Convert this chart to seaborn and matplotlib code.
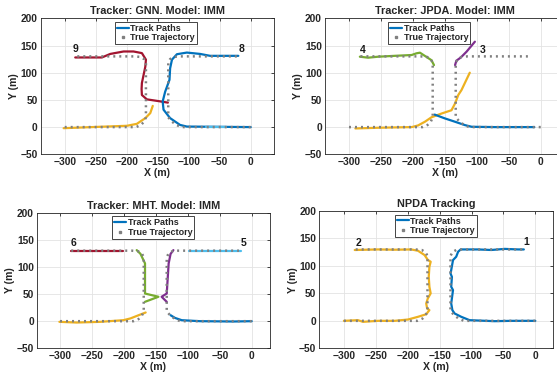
import matplotlib
matplotlib.use("Agg")
import matplotlib.pyplot as plt
from matplotlib.lines import Line2D
import seaborn as sns

# colores estilo MATLAB
azul = '#0072BD'
amarelo = '#EDB120'
roxo = '#7E2F8E'
verde = '#77AC30'
ciano = '#4DBEEE'
vermelho = '#A2142F'
cinza = '#808080'

# trajetorias verdadeiras (vertices)
truthA_x = [0, -112, -120, -127, -133, -133, -130, -124, -115, -20]
truthA_y = [0, 0, 4, 10, 18, 118, 125, 129, 130, 130]
truthB_x = [-300, -185, -177, -172, -169, -169, -172, -178, -188, -285]
truthB_y = [0, 0, 4, 10, 18, 118, 125, 129, 130, 130]

# GNN
gnn_red_x = [-133.6, -150, -167.5, -175.5, -176, -175.5, -170, -169, -175.5, -189, -205, -226.5, -240, -264, -283]
gnn_red_y = [45, 48, 51, 59, 70, 81, 111, 124, 136, 139, 139, 134.5, 128, 128, 128]
gnn_blue_x = [0, -50, -103, -114, -130, -140.6, -142, -138, -131, -130, -127, -119, -103, -81.6, -65.5, -20]
gnn_blue_y = [0, 0.5, 1, 4, 16.5, 32, 47, 65, 87, 108, 124, 134, 137, 134.5, 131, 131]
gnn_yel_x = [-301.7, -242.6, -199.7, -183.6, -170, -162, -158]
gnn_yel_y = [-2, 0.6, 2.4, 6, 16.5, 25.7, 39]
gnn_cyan_x = [-72, -40]
gnn_cyan_y = [0.6, 0.6]
gnn_lab = ['9', '8']
gnn_lab_x = [-287, -19]
gnn_lab_y = [135, 135]

# JPDA
jpda_green_x = [-167, -171, -181, -189, -194.5, -202, -228.4, -254.6, -270, -283]
jpda_green_y = [114, 123, 130.7, 136.8, 135.6, 132.5, 131, 129.4, 127.6, 129.4]
jpda_purp_x = [-134, -132, -125, -116, -103]
jpda_purp_y = [114, 122, 128, 138.7, 157]
jpda_yel_x = [-290, -254.6, -202, -192, -181, -171, -155, -139.6, -134, -129, -124, -111]
jpda_yel_y = [-2.5, -1.2, 0, 3, 10, 18, 25, 31, 43.5, 59, 68, 100]
jpda_blue_x = [-10, -71.6, -108, -118.7, -134, -150, -166]
jpda_blue_y = [0, 0, 0.6, 3.7, 9.8, 16, 23]
jpda_lab = ['4', '3']
jpda_lab_x = [-283, -96]
jpda_lab_y = [132, 132]

# MHT
mht_red_x = [-202, -240, -283]
mht_red_y = [129.5, 129.5, 129.5]
mht_cyan_x = [-98, -60, -17]
mht_cyan_y = [130, 130, 130]
mht_green_x = [-180, -174, -167, -167, -146, -167]
mht_green_y = [131, 124, 106.5, 51, 45, 35.7]
mht_purp_x = [-122.6, -127, -130, -133, -141, -133]
mht_purp_y = [131, 124, 106.5, 51, 45, 35.7]
mht_yel_x = [-301, -274, -237, -201, -190, -177, -166]
mht_yel_y = [-1.2, -2.5, -1.2, 1.8, 5, 11, 16]
mht_blue_x = [0, -28.7, -81, -109.5, -120, -127]
mht_blue_y = [0, -0.6, 0, 1.8, 6, 11]
mht_lab = ['6', '5']
mht_lab_x = [-284, -18]
mht_lab_y = [134, 134]

# NPDA
npda_yel_x = [-300, -278, -270, -246.6, -220.5, -199.6, -184, -171, -166, -169.5, -171, -168.5, -164, -166,
              -167, -166, -164, -168.5, -173.6, -184, -194.6, -220.5, -246.6, -283]
npda_yel_y = [0, 1.2, -1.8, 0, 0, 2.4, 7.3, 12, 19.5, 22.5, 31.6, 40.7, 50, 62,
              80, 98.5, 107.6, 111, 119.8, 127.7, 130, 129.5, 130, 129]
npda_blue_x = [0, -37.6, -63.8, -90, -103, -116, -126.5, -130, -131.8, -129, -131.8, -130.7, -132.8,
               -129, -124, -121, -117, -90, -69, -48, -27, -18]
npda_blue_y = [0, 0, -0.6, 0.6, 1.2, 7.3, 13.4, 19.5, 31.6, 56, 62, 80, 86,
               110.6, 116.7, 125.8, 130, 130, 129, 131, 130, 130]
npda_lab = ['2', '1']
npda_lab_x = [-282, -18]
npda_lab_y = [133, 135]

sns.set_theme(style="whitegrid")
plt.rcParams['font.family'] = ['Liberation Sans', 'DejaVu Sans']
plt.rcParams['font.weight'] = 'bold'
plt.rcParams['axes.labelweight'] = 'bold'
plt.rcParams['axes.titleweight'] = 'bold'

fig = plt.figure(figsize=(5.57, 3.79), dpi=100)
W, H = 557.0, 379.0


def eixo(l, t, r, b):
    return fig.add_axes([l / W, 1 - b / H, (r - l) / W, (b - t) / H])


def painel(ax, titulo, tracks, labs, lx, ly, xlim, legx):
    for tx, ty, c in tracks:
        sns.lineplot(x=tx, y=ty, sort=False, estimator=None, color=c, lw=1.6, ax=ax, zorder=2)
    for tx, ty in [(truthA_x, truthA_y), (truthB_x, truthB_y)]:
        ax.plot(tx, ty, color=cinza, lw=1.8, ls=(0, (0.8, 1.6)), dash_capstyle='butt', zorder=3)
    for s, x, y in zip(labs, lx, ly):
        ax.text(x, y, s, fontsize=7.5, color='k', ha='left', va='bottom', zorder=4)
    ax.set_xlim(xlim)
    ax.set_ylim(-50, 200)
    ax.set_xticks(range(-300, 1, 50))
    ax.set_yticks(range(-50, 201, 50))
    ax.set_title(titulo, fontsize=7.8, pad=3)
    ax.set_xlabel('X (m)', fontsize=7.6, labelpad=0.5)
    ax.set_ylabel('Y (m)', fontsize=7.6, labelpad=1)
    ax.tick_params(direction='in', length=2.5, width=0.6, top=True, right=True,
                   labelsize=7.4, pad=2, colors='#262626')
    ax.grid(True, color='#e3e3e3', lw=0.6)
    for sp in ax.spines.values():
        sp.set_color('#262626')
        sp.set_linewidth(0.6)
        sp.set_visible(True)
    hs = [Line2D([0], [0], color=azul, lw=1.6),
          Line2D([0], [0], color=cinza, marker='s', ms=2, ls='none')]
    leg = ax.legend(hs, ['Track Paths', 'True Trajectory'], loc='upper center',
                    bbox_to_anchor=(legx, 0.972), fontsize=6.5, frameon=True, fancybox=False,
                    borderpad=0.2, labelspacing=0.05, handlelength=1.3, handletextpad=0.2,
                    borderaxespad=0)
    leg.get_frame().set_edgecolor('#262626')
    leg.get_frame().set_linewidth(0.6)
    leg.get_frame().set_alpha(1)


ax1 = eixo(40.5, 18.3, 274.3, 154.3)
painel(ax1, 'Tracker: GNN. Model: IMM',
       [(gnn_red_x, gnn_red_y, vermelho), (gnn_blue_x, gnn_blue_y, azul),
        (gnn_cyan_x, gnn_cyan_y, ciano), (gnn_yel_x, gnn_yel_y, amarelo)],
       gnn_lab, gnn_lab_x, gnn_lab_y, (-339, 38), 0.494)

ax2 = eixo(324.7, 18.3, 565, 154.3)
painel(ax2, 'Tracker: JPDA. Model: IMM',
       [(jpda_green_x, jpda_green_y, verde), (jpda_purp_x, jpda_purp_y, roxo),
        (jpda_yel_x, jpda_yel_y, amarelo), (jpda_blue_x, jpda_blue_y, azul)],
       jpda_lab, jpda_lab_x, jpda_lab_y, (-338, 38), 0.435)

ax3 = eixo(36.7, 212.7, 270, 348.3)
painel(ax3, 'Tracker: MHT. Model: IMM',
       [(mht_red_x, mht_red_y, vermelho), (mht_cyan_x, mht_cyan_y, ciano),
        (mht_green_x, mht_green_y, verde), (mht_purp_x, mht_purp_y, roxo),
        (mht_yel_x, mht_yel_y, amarelo), (mht_blue_x, mht_blue_y, azul)],
       mht_lab, mht_lab_x, mht_lab_y, (-336.5, 28.6), 0.50)

ax4 = eixo(319, 211, 553, 348.3)
painel(ax4, 'NPDA Tracking',
       [(npda_yel_x, npda_yel_y, amarelo), (npda_blue_x, npda_blue_y, azul)],
       npda_lab, npda_lab_x, npda_lab_y, (-339, 27.7), 0.50)

fig.savefig('out.png', dpi=100)
